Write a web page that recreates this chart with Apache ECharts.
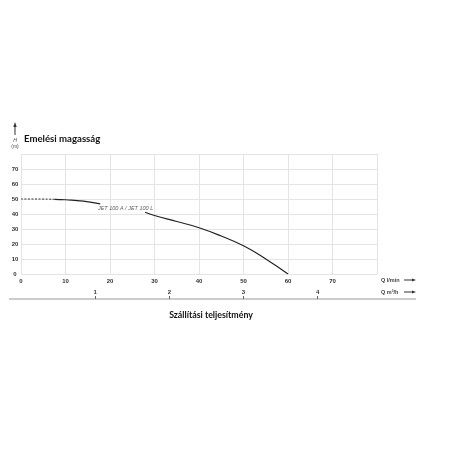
<!DOCTYPE html>
<html><head><meta charset="utf-8">
<script src="https://cdn.jsdelivr.net/npm/echarts@6/dist/echarts.min.js"></script>
<style>html,body{margin:0;padding:0;background:#fff}#c{width:456px;height:456px}</style>
</head><body><div id="c"></div>
<script>
const xTicks = [0,10,20,30,40,50,60,70];
const yTicks = [0,10,20,30,40,50,60,70];
const m3Ticks = [1,2,3,4];
const curveDashed = [[0,50],[3,50],[7.5,49.8]];
const curveSolidA = [[7.5,49.8],[10,49.5],[14,48.6],[17.8,46.8]];
const curveSolidB = [[27.9,41.2],[30,39],[35,35],[40,30.8],[45,25.3],[50,18.8],[55,10],[60,0]];
const curveLabel = 'JET 100 A / JET 100 L';
const curveLabelPos = [[23.5,43.5]];
const titleY = 'Emelési magasság';
const titleX = 'Szállítási teljesítmény';

const chart = echarts.init(document.getElementById('c'));
const lab = {fontSize:6,fontWeight:'bold',color:'#333',fontFamily:'Liberation Sans'};
chart.setOption({
  animation:false,
  grid:{left:21,right:79,top:154,bottom:182},
  xAxis:[{
    type:'value',min:0,max:80,interval:10,
    axisLine:{show:false},axisTick:{show:false},
    splitLine:{lineStyle:{color:'#e4e4e4',width:1}},
    axisLabel:Object.assign({margin:4,showMaxLabel:false,formatter:v=>xTicks.includes(v)?String(v):''},lab)
  },{
    type:'value',min:0,max:4.8,position:'bottom',offset:25,
    axisLine:{show:false},
    axisTick:{show:true,inside:true,length:3,customValues:m3Ticks,lineStyle:{color:'#666',width:1}},
    splitLine:{show:false},
    axisLabel:Object.assign({inside:true,margin:4,customValues:m3Ticks},lab)
  }],
  yAxis:{
    type:'value',min:0,max:80,interval:10,
    axisLine:{show:false},axisTick:{show:false},
    splitLine:{lineStyle:{color:'#e4e4e4',width:1}},
    axisLabel:Object.assign({margin:6,align:'center',showMaxLabel:false,formatter:v=>yTicks.includes(v)?String(v):''},lab)
  },
  series:[
    {type:'line',data:curveDashed,smooth:true,symbol:'none',lineStyle:{color:'#333',width:1,type:[2,1.5]}},
    {type:'line',data:curveSolidA,smooth:true,symbol:'none',lineStyle:{color:'#222',width:1.2}},
    {type:'line',data:curveSolidB,smooth:true,symbol:'none',lineStyle:{color:'#222',width:1.2}},
    {type:'scatter',data:curveLabelPos,symbolSize:0,silent:true,
     label:{show:true,position:'inside',formatter:curveLabel,fontSize:5.5,fontStyle:'italic',color:'#333',fontFamily:'Liberation Sans Narrow, Liberation Sans'}}
  ],
  graphic:[
    {type:'text',left:24,top:134,style:{text:titleY,fontSize:9.6,fontWeight:'bold',fill:'#111',fontFamily:'Lato'}},
    {type:'text',x:211,y:315,style:{text:titleX,fontSize:8.8,fontWeight:'bold',fill:'#111',fontFamily:'Lato',align:'center',verticalAlign:'middle'}},
    {type:'line',shape:{x1:15,y1:135,x2:15,y2:125},style:{stroke:'#333',lineWidth:1}},
    {type:'polygon',shape:{points:[[15,122],[13.3,127],[16.7,127]]},style:{fill:'#333'}},
    {type:'text',x:15,y:141,style:{text:'H',fontSize:5,fontStyle:'italic',fill:'#444',align:'center',verticalAlign:'middle',fontFamily:'Liberation Sans'}},
    {type:'text',x:15,y:147,style:{text:'(m)',fontSize:5,fill:'#444',align:'center',verticalAlign:'middle',fontFamily:'Liberation Sans'}},
    {type:'line',shape:{x1:9,y1:299,x2:416,y2:299},style:{stroke:'#999',lineWidth:1.2}},
    {type:'text',x:381,y:280,style:{text:'Q l/min',fontSize:5.5,fontWeight:'bold',fill:'#444',verticalAlign:'middle',fontFamily:'Liberation Sans'}},
    {type:'text',x:381,y:292,style:{text:'Q m³/h',fontSize:5.5,fontWeight:'bold',fill:'#444',verticalAlign:'middle',fontFamily:'Liberation Sans'}},
    {type:'line',shape:{x1:404,y1:280,x2:413,y2:280},style:{stroke:'#333',lineWidth:1}},
    {type:'polygon',shape:{points:[[416,280],[412,278.5],[412,281.5]]},style:{fill:'#333'}},
    {type:'line',shape:{x1:404,y1:292,x2:413,y2:292},style:{stroke:'#333',lineWidth:1}},
    {type:'polygon',shape:{points:[[416,292],[412,290.5],[412,293.5]]},style:{fill:'#333'}}
  ]
});
</script></body></html>
